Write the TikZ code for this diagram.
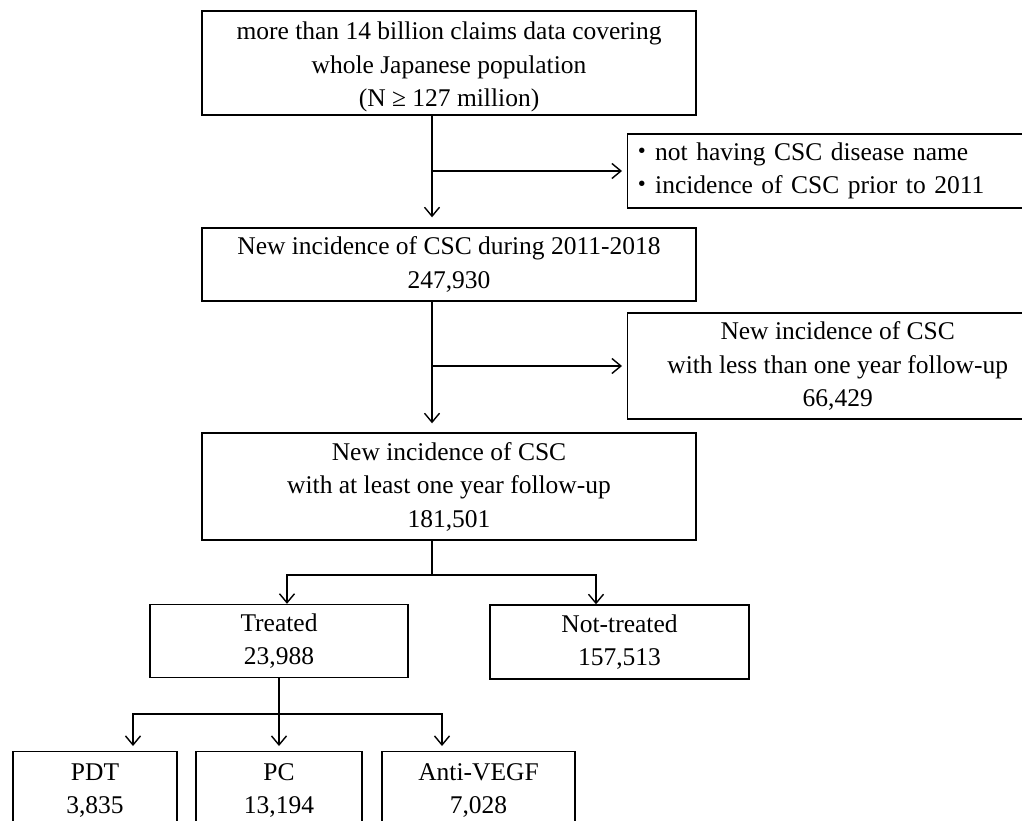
\documentclass[tikz,border=0pt]{standalone}
\usepackage{fontspec}
\setmainfont{Liberation Serif}
\newfontfamily\cjk{Noto Sans CJK JP}
\usetikzlibrary{arrows.meta}
\begin{document}
\begin{tikzpicture}[x=1pt,y=-1pt,
  box/.style={draw, line width=1.4pt, align=center, inner sep=0pt,
    font=\fontsize{25.5}{33.5}\selectfont},
  conn/.style={line width=1.4pt},
  arr/.style={conn, -{Straight Barb[length=9pt,width=15pt]}}
]
\useasboundingbox (0,0) rectangle (1022,821);
\fill[white] (0,0) rectangle (1022,821);
\clip (0,0) rectangle (1022,821);

% main column
\node[box, minimum width=494pt, minimum height=104pt] (top) at (449,63)
  {\rule{0pt}{26pt}more than 14 billion claims data covering\\whole Japanese population\\(N ≥ 127 million)};
\node[box, minimum width=494pt, minimum height=73pt] (box2) at (449,264.5)
  {New incidence of CSC during 2011-2018\\247,930};
\node[box, minimum width=494pt, minimum height=107pt] (box3) at (449,486.5)
  {New incidence of CSC\\with at least one year follow-up\\181,501};

% exclusion boxes
\node[box, anchor=west, align=left, text width=416pt, inner xsep=2pt,
  minimum height=74pt] (rb1) at (627,171)
  {{\cjk ・}not having CSC disease name\\{\cjk ・}incidence of CSC prior to 2011};
\node[box, anchor=west, minimum width=420pt, minimum height=106pt] (rb2) at (627,366)
  {New incidence of CSC\\with less than one year follow-up\\66,429};

% treated / not treated
\node[box, minimum width=258pt, minimum height=73pt] (treated) at (279,641)
  {Treated\\23,988};
\node[box, minimum width=259pt, minimum height=74pt] (nottreated) at (619.5,642)
  {Not-treated\\157,513};

% treatments
\node[box, minimum width=164pt, minimum height=78pt, anchor=north] (pdt) at (95,751)
  {PDT\\3,835};
\node[box, minimum width=166pt, minimum height=78pt, anchor=north] (pc) at (279,751)
  {PC\\13,194};
\node[box, minimum width=193pt, minimum height=78pt, anchor=north] (anti) at (478.5,751)
  {Anti-VEGF\\7,028};

% connector coordinates
\coordinate (v) at (432,0);
\coordinate (j1) at (432,575);
\coordinate (t1) at (287,575);
\coordinate (n1) at (596,575);
\coordinate (j2) at (279,714);
\coordinate (a1) at (133,714);
\coordinate (a3) at (442,714);

\draw[arr, shorten >=10pt] (top.south -| v) -- (box2.north -| v);
\draw[arr, shorten >=5pt] (rb1.west -| v) -- (rb1.west);
\draw[arr, shorten >=9pt] (box2.south -| v) -- (box3.north -| v);
\draw[arr, shorten >=5pt] (rb2.west -| v) -- (rb2.west);

\draw[conn] (box3.south -| j1) -- (j1);
\draw[arr] (j1) -| (treated.north -| t1);
\draw[arr] (j1) -| (nottreated.north -| n1);

\draw[conn] (treated.south) -- (j2);
\draw[arr, shorten >=5pt] (j2) -| (pdt.north -| a1);
\draw[arr, shorten >=5pt] (j2) -- (pc.north);
\draw[arr, shorten >=5pt] (j2) -| (anti.north -| a3);
\end{tikzpicture}
\end{document}
